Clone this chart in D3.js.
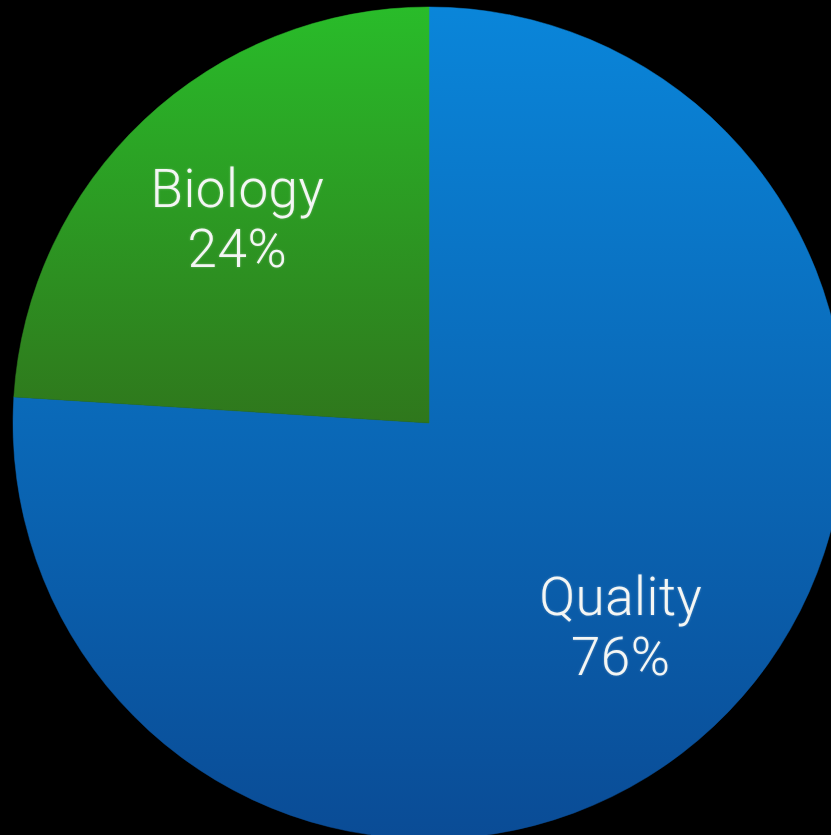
<!DOCTYPE html>
<html>
<head>
<meta charset="utf-8">
<script src="https://cdn.jsdelivr.net/npm/d3@7"></script>
<style>
  html, body { margin: 0; padding: 0; background: #000; }
  svg { display: block; }
</style>
</head>
<body>
<div id="chart"></div>
<script>
// slice data
var categories = ["Quality", "Biology"];
var shares = [76, 24];
var labels = ["76%", "24%"];

var width = 831,
    height = 835,
    cx = 429,
    cy = 423,
    radius = 416;

var svg = d3.select("#chart").append("svg")
    .attr("width", width)
    .attr("height", height);

svg.append("rect")
    .attr("width", width)
    .attr("height", height)
    .attr("fill", "#000");

var defs = svg.append("defs");

// vertical gradients, lighter at the top (coords are in the pie group's space)
var gradients = {
    Quality: ["#0a86da", "#0a4c96", height - cy],
    Biology: ["#29bd2a", "#2f771c", 0]
};
categories.forEach(function (c) {
    var g = defs.append("linearGradient")
        .attr("id", "grad-" + c)
        .attr("gradientUnits", "userSpaceOnUse")
        .attr("x1", 0).attr("y1", -cy)
        .attr("x2", 0).attr("y2", gradients[c][2]);
    g.append("stop").attr("offset", "0%").attr("stop-color", gradients[c][0]);
    g.append("stop").attr("offset", "100%").attr("stop-color", gradients[c][1]);
});

var glow = defs.append("filter").attr("id", "glow")
    .attr("x", "-10%").attr("y", "-10%").attr("width", "120%").attr("height", "120%");
glow.append("feGaussianBlur").attr("in", "SourceAlpha").attr("stdDeviation", 1.2).attr("result", "b");
glow.append("feFlood").attr("flood-color", "#ffffff").attr("flood-opacity", 0.3);
glow.append("feComposite").attr("in2", "b").attr("operator", "in").attr("result", "s");
var merge = glow.append("feMerge");
merge.append("feMergeNode").attr("in", "s");
merge.append("feMergeNode").attr("in", "SourceGraphic");

var pie = d3.pie()
    .sort(null)
    .value(function (d) { return d.value; });

var data = categories.map(function (c, i) {
    return { name: c, value: shares[i], label: labels[i] };
});

var arc = d3.arc().innerRadius(0).outerRadius(radius);
var labelArc = d3.arc().innerRadius(280).outerRadius(280);

var g = svg.append("g").attr("transform", "translate(" + cx + "," + cy + ")");

var slices = g.selectAll("g.slice")
    .data(pie(data))
    .enter()
    .append("g")
    .attr("class", "slice");

slices.append("path")
    .attr("d", arc)
    .attr("fill", function (d) { return "url(#grad-" + d.data.name + ")"; })
    .attr("stroke", function (d) { return "url(#grad-" + d.data.name + ")"; })
    .attr("stroke-width", 0.5);

var txt = slices.append("text")
    .attr("transform", function (d) {
        var c = labelArc.centroid(d);
        return "translate(" + c[0] + "," + c[1] + ")";
    })
    .attr("text-anchor", "middle")
    .attr("fill", "#f4f6f4")
    .attr("filter", "url(#glow)")
    .style("font-family", "Roboto, 'Open Sans', sans-serif")
    .style("font-weight", 300)
    .style("font-size", "53px")
    .style("letter-spacing", "0.5px");

txt.append("tspan")
    .attr("x", 0)
    .attr("dy", -12)
    .text(function (d) { return d.data.name; });

txt.append("tspan")
    .attr("x", 0)
    .attr("dy", 60)
    .text(function (d) { return d.data.label; });
</script>
</body>
</html>
